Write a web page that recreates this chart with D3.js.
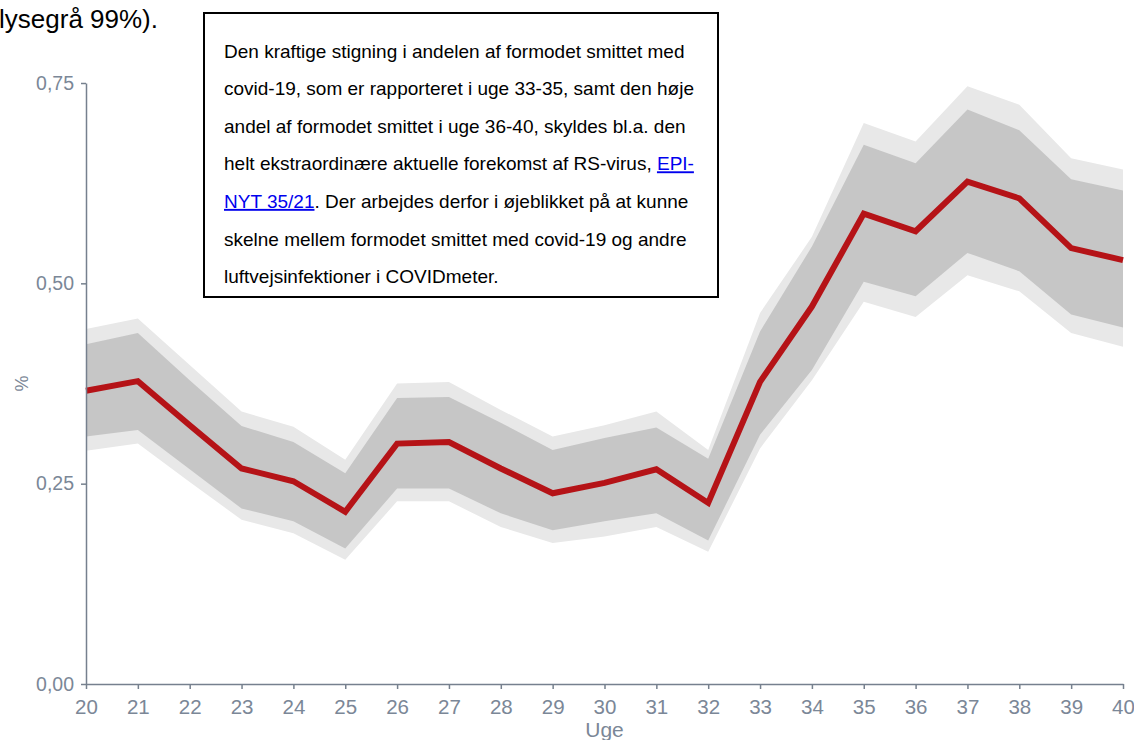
<!DOCTYPE html>
<html>
<head>
<meta charset="utf-8">
<script src="https://cdn.jsdelivr.net/npm/d3@7"></script>
<style>
  body { margin: 0; background: #fff; }
  svg { display: block; font-family: "Liberation Sans", Arial, sans-serif; }
</style>
</head>
<body>
<section></section>
<script>
"use strict";

const w = 1134;
const h = 740;
const margin = { top: 83, bottom: 56, left: 86, right: 11 };

//Weeks shown on the x axis
const weeks = [20, 21, 22, 23, 24, 25, 26, 27, 28, 29, 30, 31, 32, 33, 34, 35, 36, 37, 38, 39, 40];

//Estimated share (red line)
const estimate = [0.366, 0.378, 0.323, 0.269, 0.253, 0.215, 0.300, 0.302, 0.269, 0.238, 0.251,
  0.268, 0.226, 0.377, 0.471, 0.587, 0.565, 0.627, 0.606, 0.544, 0.529];

//Inner band (dark grey)
const lower95 = [0.309, 0.317, 0.268, 0.219, 0.203, 0.169, 0.244, 0.244, 0.213, 0.192, 0.203,
  0.213, 0.179, 0.311, 0.392, 0.502, 0.484, 0.538, 0.515, 0.461, 0.445];
const upper95 = [0.424, 0.438, 0.379, 0.322, 0.302, 0.263, 0.357, 0.358, 0.326, 0.292, 0.307,
  0.320, 0.281, 0.440, 0.546, 0.673, 0.650, 0.717, 0.691, 0.630, 0.616];

//Outer band (light grey)
const lower99 = [0.291, 0.300, 0.252, 0.205, 0.188, 0.155, 0.228, 0.228, 0.196, 0.176, 0.184,
  0.196, 0.165, 0.294, 0.379, 0.477, 0.458, 0.510, 0.490, 0.438, 0.421];
const upper99 = [0.443, 0.456, 0.398, 0.340, 0.321, 0.280, 0.375, 0.377, 0.342, 0.309, 0.323,
  0.340, 0.292, 0.463, 0.558, 0.700, 0.677, 0.746, 0.723, 0.656, 0.642];

const yTicks = [0, 0.25, 0.5, 0.75];

//Annotation lines, link parts marked
const noteLines = [
  [{ t: "Den kraftige stigning i andelen af formodet smittet med" }],
  [{ t: "covid-19, som er rapporteret i uge 33-35, samt den høje" }],
  [{ t: "andel af formodet smittet i uge 36-40, skyldes bl.a. den" }],
  [{ t: "helt ekstraordinære aktuelle forekomst af RS-virus, " }, { t: "EPI-", link: true }],
  [{ t: "NYT 35/21", link: true }, { t: ". Der arbejdes derfor i øjeblikket på at kunne" }],
  [{ t: "skelne mellem formodet smittet med covid-19 og andre" }],
  [{ t: "luftvejsinfektioner i COVIDmeter." }],
];

const axisColor = "#76808e";
const labelColor = "#7b8797";

const innerWidth = w - margin.left - margin.right;
const innerHeight = h - margin.top - margin.bottom;

const rows = weeks.map((wk, i) => ({
  week: wk,
  est: estimate[i],
  lo95: lower95[i],
  hi95: upper95[i],
  lo99: lower99[i],
  hi99: upper99[i],
}));

const svg = d3.select("section").append("svg").attr("width", w).attr("height", h);
const container = svg.append("g").attr("transform", `translate(${margin.left}, ${margin.top})`);

//Scales
const xScale = d3.scaleLinear().domain([20, 40]).range([0, innerWidth]);
const yScale = d3.scaleLinear().domain([0, 0.75]).range([innerHeight, 0]);

//Bands
const area = (lo, hi) =>
  d3
    .area()
    .x((d) => xScale(d.week))
    .y0((d) => yScale(d[lo]))
    .y1((d) => yScale(d[hi]));

container.append("path").datum(rows).attr("fill", "#e8e8e8").attr("d", area("lo99", "hi99"));
container.append("path").datum(rows).attr("fill", "#c6c6c6").attr("d", area("lo95", "hi95"));

//Red line
const line = d3
  .line()
  .x((d) => xScale(d.week))
  .y((d) => yScale(d.est));

container
  .append("path")
  .datum(rows)
  .attr("fill", "none")
  .attr("stroke", "#b51317")
  .attr("stroke-width", 6)
  .attr("d", line);

//Axes
const xAxis = d3
  .axisBottom(xScale)
  .tickValues(weeks)
  .tickFormat((d) => d)
  .tickSize(5)
  .tickSizeOuter(0)
  .tickPadding(10);

const yAxis = d3
  .axisLeft(yScale)
  .tickValues(yTicks)
  .tickFormat((d) => d3.format(".2f")(d).replace(".", ","))
  .tickSize(5)
  .tickSizeOuter(0)
  .tickPadding(7);

const styleAxis = (g, size) => {
  g.select(".domain").attr("stroke", axisColor).attr("stroke-width", 1.5);
  g.selectAll(".tick line").attr("stroke", axisColor).attr("stroke-width", 1.5);
  g.selectAll(".tick text")
    .attr("fill", labelColor)
    .style("font-size", `${size}px`)
    .style("font-family", '"Liberation Sans", Arial, sans-serif');
};

container
  .append("g")
  .attr("transform", `translate(0, ${innerHeight})`)
  .call(xAxis)
  .call((g) => styleAxis(g, 20.5));

container
  .append("g")
  .call(yAxis)
  .call((g) => styleAxis(g, 19.5));

//Axis titles
svg
  .append("text")
  .attr("x", margin.left + innerWidth / 2)
  .attr("y", 737)
  .attr("text-anchor", "middle")
  .attr("fill", labelColor)
  .style("font-size", "21px")
  .text("Uge");

svg
  .append("text")
  .attr("transform", `translate(28, ${margin.top + innerHeight / 2}) rotate(-90)`)
  .attr("text-anchor", "middle")
  .attr("fill", labelColor)
  .style("font-size", "18px")
  .text("%");

//Clipped text at top left
svg
  .append("text")
  .attr("x", 158)
  .attr("y", 28)
  .attr("text-anchor", "end")
  .attr("fill", "#000")
  .style("font-size", "26px")
  .text("lysegrå 99%).");

//Annotation box
const note = svg.append("g").attr("transform", "translate(204, 13)");
note
  .append("rect")
  .attr("width", 514)
  .attr("height", 284)
  .attr("fill", "#fff")
  .attr("stroke", "#000")
  .attr("stroke-width", 2);

note
  .selectAll("text")
  .data(noteLines)
  .enter()
  .append("text")
  .attr("x", 20)
  .attr("y", (d, i) => 44.5 + i * 37.6)
  .style("font-size", "19px")
  .each(function (parts) {
    d3.select(this)
      .selectAll("tspan")
      .data(parts)
      .enter()
      .append("tspan")
      .attr("fill", (p) => (p.link ? "#0000ee" : "#000"))
      .style("text-decoration", (p) => (p.link ? "underline" : null))
      .text((p) => p.t);
  });
</script>
</body>
</html>
